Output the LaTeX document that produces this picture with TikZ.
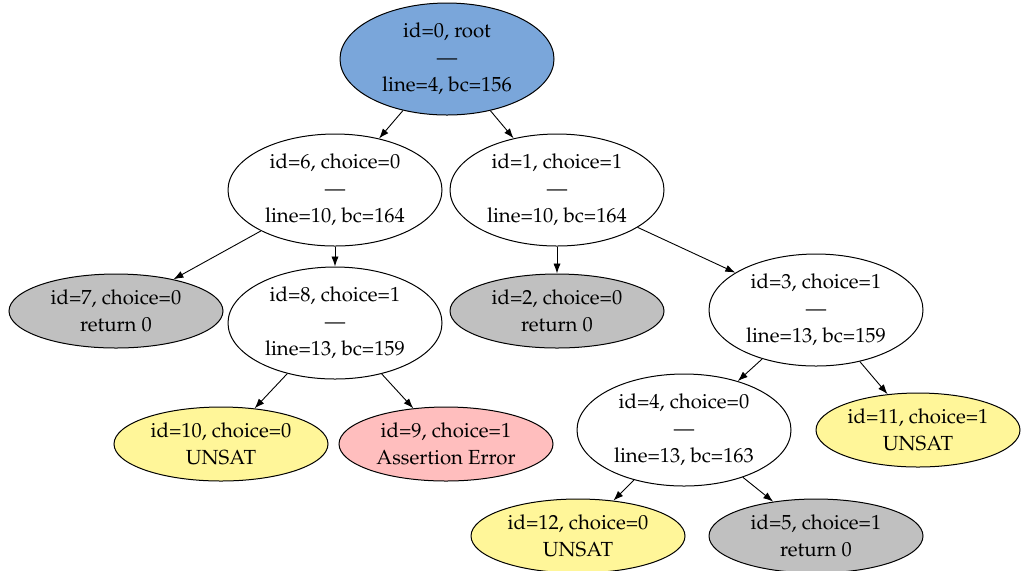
\documentclass[tikz,border=0pt]{standalone}
\usepackage[T1]{fontenc}
\usepackage{mathpazo}
\usetikzlibrary{shapes.geometric,arrows.meta}

\definecolor{rootblue}{RGB}{122,166,218}
\definecolor{leafgray}{RGB}{192,192,192}
\definecolor{unsatyellow}{RGB}{255,246,153}
\definecolor{errpink}{RGB}{255,190,190}

\tikzset{
  state/.style={ellipse, draw=black, line width=0.5pt, inner sep=0pt,
    align=center, font=\fontsize{10.2}{13.4}\selectfont,
    minimum width=107pt, minimum height=56pt},
  leaf/.style={state, minimum height=37pt},
  edge/.style={-{Latex[length=5pt,width=3.6pt]}, line width=0.45pt},
}

\begin{document}
\begin{tikzpicture}[x=0.5pt, y=-0.5pt]
  \useasboundingbox (0,0) rectangle (1022,570);

  % inner decision nodes
  \node[state, fill=rootblue] (n0) at (447,59) {id=0, root\\---\\line=4, bc=156};
  \node[state] (n6) at (335,190) {id=6, choice=0\\---\\line=10, bc=164};
  \node[state] (n1) at (557,190) {id=1, choice=1\\---\\line=10, bc=164};
  \node[state] (n8) at (335,323) {id=8, choice=1\\---\\line=13, bc=159};
  \node[state] (n3) at (816,310) {id=3, choice=1\\---\\line=13, bc=159};
  \node[state] (n4) at (684,430) {id=4, choice=0\\---\\line=13, bc=163};

  % terminal nodes
  \node[leaf, fill=leafgray] (n7) at (116,311) {id=7, choice=0\\return 0};
  \node[leaf, fill=leafgray] (n2) at (557,311) {id=2, choice=0\\return 0};
  \node[leaf, fill=unsatyellow] (n10) at (221,444) {id=10, choice=0\\UNSAT};
  \node[leaf, fill=errpink] (n9) at (446,444) {id=9, choice=1\\Assertion Error};
  \node[leaf, fill=unsatyellow, minimum width=102pt] (n11) at (918,430) {id=11, choice=1\\UNSAT};
  \node[leaf, fill=unsatyellow] (n12) at (578,536) {id=12, choice=0\\UNSAT};
  \node[leaf, fill=leafgray] (n5) at (816,536) {id=5, choice=1\\return 0};

  % edges
  \draw[edge] (n0) -- (n6);
  \draw[edge] (n0) -- (n1);
  \draw[edge] (n6) -- (n7);
  \draw[edge] (n6) -- (n8);
  \draw[edge] (n1) -- (n2);
  \draw[edge] (n1) -- (n3);
  \draw[edge] (n8) -- (n10);
  \draw[edge] (n8) -- (n9);
  \draw[edge] (n3) -- (n4);
  \draw[edge] (n3) -- (n11);
  \draw[edge] (n4) -- (n12);
  \draw[edge] (n4) -- (n5);
\end{tikzpicture}
\end{document}
